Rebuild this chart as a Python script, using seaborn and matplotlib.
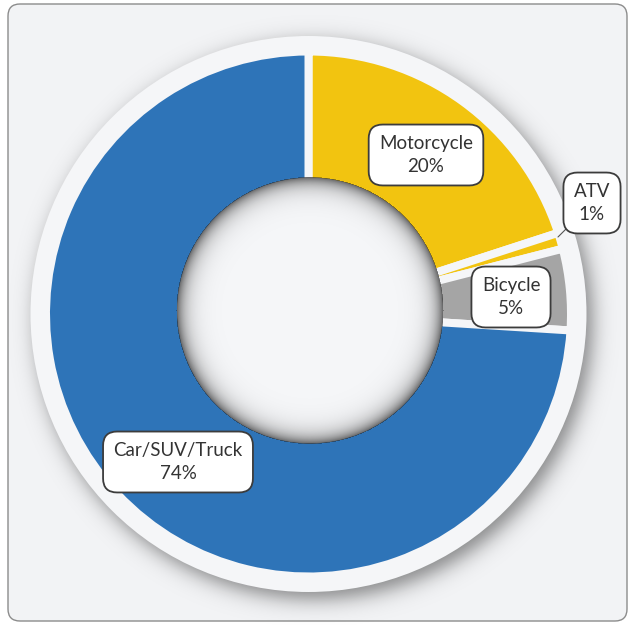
import numpy as np
import matplotlib
matplotlib.use('Agg')
import matplotlib.pyplot as plt
import seaborn as sns
from matplotlib.patches import Circle, FancyBboxPatch

# Data
categories = ['Motorcycle', 'ATV', 'Bicycle', 'Car/SUV/Truck']
shares = [20, 1, 5, 74]
colors = ['#f2c410', '#f2c410', '#a5a5a5', '#2e74b8']

# Layout (image pixel coords, y downward)
W, H = 634, 625
label_xy = [(426, 155), (592, 203), (511, 297), (178, 462)]
bg = '#f2f3f5'
rim = '#f5f6f8'

sns.set_theme(style='white')
plt.rcParams['font.family'] = ['Lato', 'DejaVu Sans']

fig = plt.figure(figsize=(W / 100, H / 100), dpi=100)
ax = fig.add_axes([0, 0, 1, 1])
ax.set_xlim(0, W)
ax.set_ylim(0, H)
ax.axis('off')


def Y(y):
    return H - y


# Rounded card
ax.add_patch(FancyBboxPatch((8, Y(621)), 619, 617,
                            boxstyle='round,pad=0,rounding_size=12',
                            fc=bg, ec='#8c8c8c', lw=1.0, zorder=0))

xx, yy = np.meshgrid(np.arange(W) + 0.5, np.arange(H) + 0.5)

# Drop shadow behind the donut
cx, cy, R = 308.5, 314, 278
d = np.hypot(xx - (cx + 6), yy - (cy + 7))
a = 0.45 * 0.5 * (1 - np.tanh((d - R) / 12))
shadow = np.zeros((H, W, 4))
shadow[..., 3] = a
ax.imshow(shadow, extent=(0, W, 0, H), origin='upper', zorder=1,
          interpolation='bilinear')

ax.add_patch(Circle((cx, Y(cy)), R, fc=rim, ec='none', zorder=2))

# Donut
gap = 8
outer = 266.5
ax.pie(shares, colors=colors, radius=outer - gap / 2, center=(cx, Y(cy)),
       startangle=90, counterclock=False,
       wedgeprops=dict(width=150, edgecolor=rim, linewidth=gap * 0.72),
       frame=True)
for p in ax.patches[2:]:
    p.set_zorder(3)
ax.set_xlim(0, W)
ax.set_ylim(0, H)
ax.axis('off')

# Hole with inner shadow
hx, hy, hr = 310, 310.5, 133
ax.add_patch(Circle((hx, Y(hy)), hr, fc=rim, ec='none', zorder=4))
dh = np.hypot(xx - hx, yy - hy)
t = hr - dh
ah = np.where(t >= -0.5, 0.58 * np.exp(-np.clip(t, 0, None) / 9.0), 0.0)
ah = np.where(t < 0, ah * np.clip(t + 1, 0, 1), ah)
inner = np.zeros((H, W, 4))
inner[..., 3] = ah
ax.imshow(inner, extent=(0, W, 0, H), origin='upper', zorder=5,
          interpolation='bilinear')

# Labels
fs = 13.5
box = dict(boxstyle='round,pad=0.55,rounding_size=0.75', fc='white',
           ec='#3c3c3c', lw=1.3)
for name, val, (lx, ly) in zip(categories, shares, label_xy):
    txt = f'{name}\n{val}%'
    if name == 'ATV':
        ax.annotate(txt, xy=(558, Y(237)), xytext=(lx, Y(ly)),
                    ha='center', va='center', fontsize=fs, color='#333333',
                    linespacing=1.45, bbox=box, zorder=7,
                    arrowprops=dict(arrowstyle='-', color='#555555', lw=0.8,
                                    shrinkA=0, shrinkB=0))
    else:
        ax.text(lx, Y(ly), txt, ha='center', va='center', fontsize=fs,
                color='#333333', linespacing=1.45, bbox=box, zorder=7)

plt.savefig('out.png', dpi=100, facecolor='white')
